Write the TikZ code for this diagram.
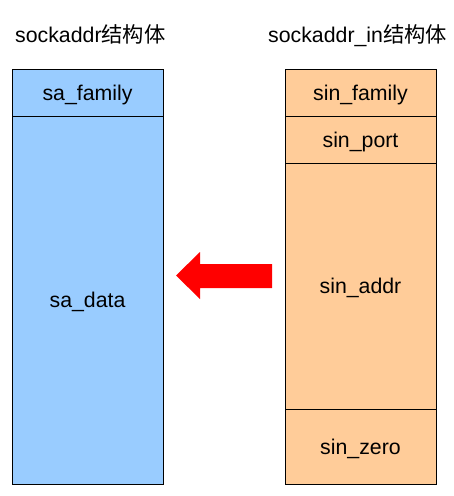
\documentclass[tikz,border=0pt]{standalone}
\usepackage{fontspec}
\setmainfont{Liberation Sans}
\newfontfamily\cjk{Noto Sans CJK SC}
\definecolor{cellblue}{RGB}{153,204,255}
\definecolor{cellorange}{RGB}{255,204,153}
\begin{document}
\begin{tikzpicture}[x=1pt,y=-1pt,
  cell/.style={draw=black,line width=0.8pt,inner sep=0pt,font=\fontsize{21.3}{25}\selectfont,text=black},
  lbl/.style={inner sep=0pt,anchor=base,font=\fontsize{21.3}{25}\selectfont},
  title/.style={inner sep=0pt,anchor=base west,font=\fontsize{21.3}{25}\selectfont}]
\useasboundingbox (0,0) rectangle (454,496);
% left structure
\node[cell,fill=cellblue,minimum width=151pt,minimum height=47pt] (safam) at (87.5,92.5) {};
\node[cell,fill=cellblue,minimum width=151pt,minimum height=368pt] (sadata) at (87.5,300) {};
% right structure
\node[cell,fill=cellorange,minimum width=151pt,minimum height=47pt] (sinfam) at (360.5,92.5) {};
\node[cell,fill=cellorange,minimum width=151pt,minimum height=47pt] (sinport) at (360.5,139.5) {};
\node[cell,fill=cellorange,minimum width=151pt,minimum height=246pt] (sinaddr) at (360.5,286) {};
\node[cell,fill=cellorange,minimum width=151pt,minimum height=75pt] (sinzero) at (360.5,446.5) {};
% labels
\node[lbl] (l1) at ([yshift=-7.5pt]safam.center) {sa\_family};
\node[lbl] (l2) at ([yshift=-7.5pt]sadata.center) {sa\_data};
\node[lbl] (l3) at ([yshift=-7.5pt]sinfam.center) {sin\_family};
\node[lbl] (l4) at ([yshift=-7.5pt]sinport.center) {sin\_port};
\node[lbl] (l5) at ([yshift=-7.5pt]sinaddr.center) {sin\_addr};
\node[lbl] (l6) at ([yshift=-7.5pt]sinzero.center) {sin\_zero};
% titles
\node[title] (t1) at (15,42) {sockaddr{\cjk 结构体}};
\node[title] (t2) at (268,42) {sockaddr\_in{\cjk 结构体}};
% arrow
\fill[red] (272,264) -- (200,264) -- (200,252) -- (176,275.5) -- (200,299) -- (200,288) -- (272,288) -- cycle;
\end{tikzpicture}
\end{document}
